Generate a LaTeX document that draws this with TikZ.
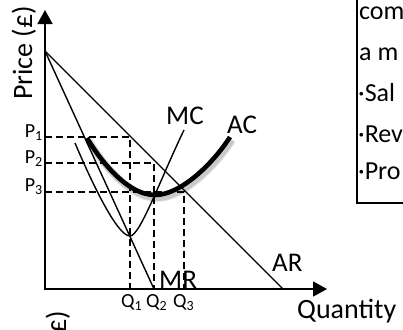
\documentclass[tikz,border=0pt]{standalone}
\usepackage{fontspec}
\setmainfont{Carlito}
\usetikzlibrary{arrows.meta}
\begin{document}
\begin{tikzpicture}[x=1bp,y=-1bp,
  axis/.style={line width=1.8bp, {Triangle[length=14bp,width=15bp]}-{Triangle[length=14bp,width=15bp]}},
  curve/.style={line width=1.4bp},
  guide/.style={line width=1.8bp, dash pattern=on 7bp off 4bp},
  aclook/.style={line width=4.6bp, line cap=butt},
  acshadow/.style={line width=8bp, black, opacity=0.10, shift={(2,3)}},
  curvelbl/.style={font=\fontsize{27bp}{30bp}\selectfont, inner sep=0pt, anchor=base west},
  axislbl/.style={font=\fontsize{28bp}{32bp}\selectfont, inner sep=0pt},
  pqlbl/.style={font=\fontsize{20bp}{24bp}\selectfont, inner sep=0pt},
  boxtxt/.style={font=\fontsize{26bp}{30bp}\selectfont, inner sep=0pt, anchor=base west}
]
\useasboundingbox (0,0) rectangle (403,330);
\clip (0,0) rectangle (403,330);

% key points
\coordinate (O) at (45,289);
\coordinate (Ytip) at (45,10);
\coordinate (Xtip) at (327,289);
\coordinate (D) at (45,51);
\coordinate (ARend) at (283,289);
\coordinate (MRend) at (154,289);

% dashed guides
\draw[guide] (45,137) -| (130,289);
\draw[guide] (45,163) -| (154,289);
\draw[guide] (45,192) -| (184,289);

% axes
\draw[axis] (Ytip) -- (O) -- (Xtip);

% AR and MR
\draw[curve] (D) -- (ARend);
\draw[curve] (D) -- (MRend);

% MC
\draw[curve] (75,143) .. controls (95,190) and (118,236) .. (130,236)
  .. controls (140,236) and (160,180) .. (184,130);

% AC with soft shadow
\draw[acshadow] (87,138) .. controls (97,155) and (125,195) .. (155,195)
  .. controls (180,195) and (212,165) .. (230,137);
\draw[acshadow, line width=6bp, opacity=0.12] (87,138) .. controls (97,155) and (125,195) .. (155,195)
  .. controls (180,195) and (212,165) .. (230,137);
\draw[aclook] (87,138) .. controls (97,155) and (125,195) .. (155,195)
  .. controls (180,195) and (212,165) .. (230,137);

% curve labels
\node[curvelbl] (mc) at (166,124) {MC};
\node[curvelbl] (ac) at (227,133) {AC};
\node[curvelbl] (ar) at (272,271) {AR};
\node[curvelbl] (mr) at (159,288) {MR};

% axis labels
\node[axislbl, anchor=base west] (qty) at (297,318) {Quantity};
\node[axislbl, rotate=90, anchor=base west] (price) at (32,100) {Price (£)};
\node[axislbl, rotate=90, anchor=base east] (price2) at (66,311) {(£)};

% P labels
\node[pqlbl, anchor=base east] (p1) at (43,137) {P\textsubscript{1}};
\node[pqlbl, anchor=base east] (p2) at (43,163) {P\textsubscript{2}};
\node[pqlbl, anchor=base east] (p3) at (43,191) {P\textsubscript{3}};

% Q labels
\node[pqlbl, anchor=base west] (q1) at (121,307) {Q\textsubscript{1}};
\node[pqlbl, anchor=base west] (q2) at (146,307) {Q\textsubscript{2}};
\node[pqlbl, anchor=base west] (q3) at (173,307) {Q\textsubscript{3}};

% text box (cut off)
\draw[line width=1.5bp] (357,-5) -- (357,203) -- (410,203);
\node[boxtxt] (t1) at (359,19) {com};
\node[boxtxt] (t2) at (359,60) {a m};
\node[boxtxt] (t3) at (358,101) {·Sal};
\node[boxtxt] (t4) at (358,142) {·Rev};
\node[boxtxt] (t5) at (358,179) {·Pro};
\end{tikzpicture}
\end{document}
